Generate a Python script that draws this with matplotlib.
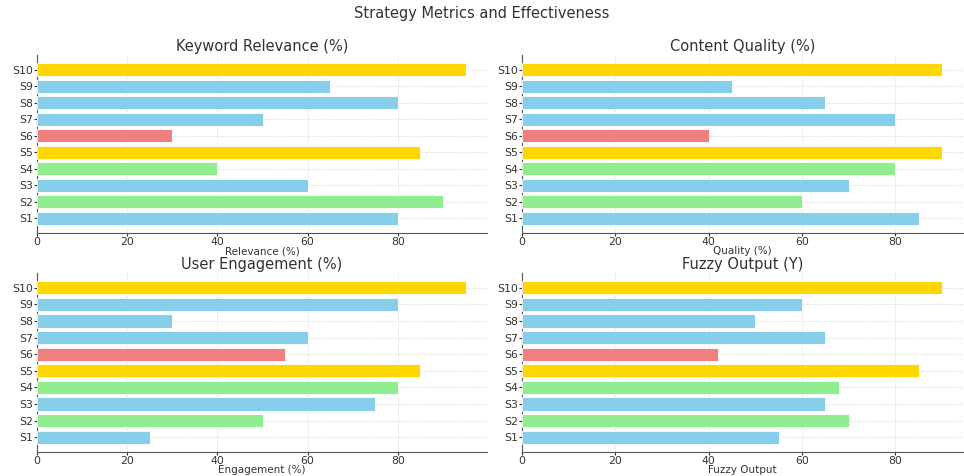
import matplotlib
matplotlib.use("Agg")
import matplotlib.pyplot as plt

strategies = ['S1', 'S2', 'S3', 'S4', 'S5', 'S6', 'S7', 'S8', 'S9', 'S10']
bar_colors = ['skyblue', 'lightgreen', 'skyblue', 'lightgreen', 'gold',
              'lightcoral', 'skyblue', 'skyblue', 'skyblue', 'gold']

keyword_relevance = [80, 90, 60, 40, 85, 30, 50, 80, 65, 95]
content_quality = [85, 60, 70, 80, 90, 40, 80, 65, 45, 90]
user_engagement = [25, 50, 75, 80, 85, 55, 60, 30, 80, 95]
fuzzy_output = [55, 70, 65, 68, 85, 42, 65, 50, 60, 90]

panels = [
    (keyword_relevance, 'Keyword Relevance (%)', 'Relevance (%)'),
    (content_quality, 'Content Quality (%)', 'Quality (%)'),
    (user_engagement, 'User Engagement (%)', 'Engagement (%)'),
    (fuzzy_output, 'Fuzzy Output (Y)', 'Fuzzy Output'),
]

# axes boxes in pixels (left, right, top, bottom)
W, H = 964, 476
boxes = [(37, 487, 55, 233), (522, 963, 55, 233),
         (37, 487, 273, 452), (522, 963, 273, 452)]

plt.rcParams['font.family'] = ['DejaVu Sans']
fig, axes = plt.subplots(2, 2, figsize=(9.64, 4.76), dpi=100)

for ax, (vals, title, xlabel), (x0, x1, y0, y1) in zip(axes.flat, panels, boxes):
    ax.set_position([x0 / W, 1 - y1 / H, (x1 - x0) / W, (y1 - y0) / H])
    ax.barh(strategies, vals, color=bar_colors, height=0.8,
            edgecolor='white', linewidth=0.6, zorder=3)
    ax.set_title(title, fontsize=10.5, color='#333333', pad=3)
    ax.set_xlabel(xlabel, fontsize=7.5, color='#333333', labelpad=-0.5)
    ax.grid(True, linestyle='--', linewidth=0.5, color='#dddddd', zorder=0)
    ax.spines['top'].set_visible(False)
    ax.spines['right'].set_visible(False)
    ax.spines['left'].set_color('#555555')
    ax.spines['bottom'].set_color('#555555')
    ax.tick_params(axis='both', labelsize=7.8, colors='#333333', length=2, pad=1)

fig.suptitle('Strategy Metrics and Effectiveness', fontsize=10.5, color='#333333', y=0.988)
fig.savefig('out.png', dpi=100)
